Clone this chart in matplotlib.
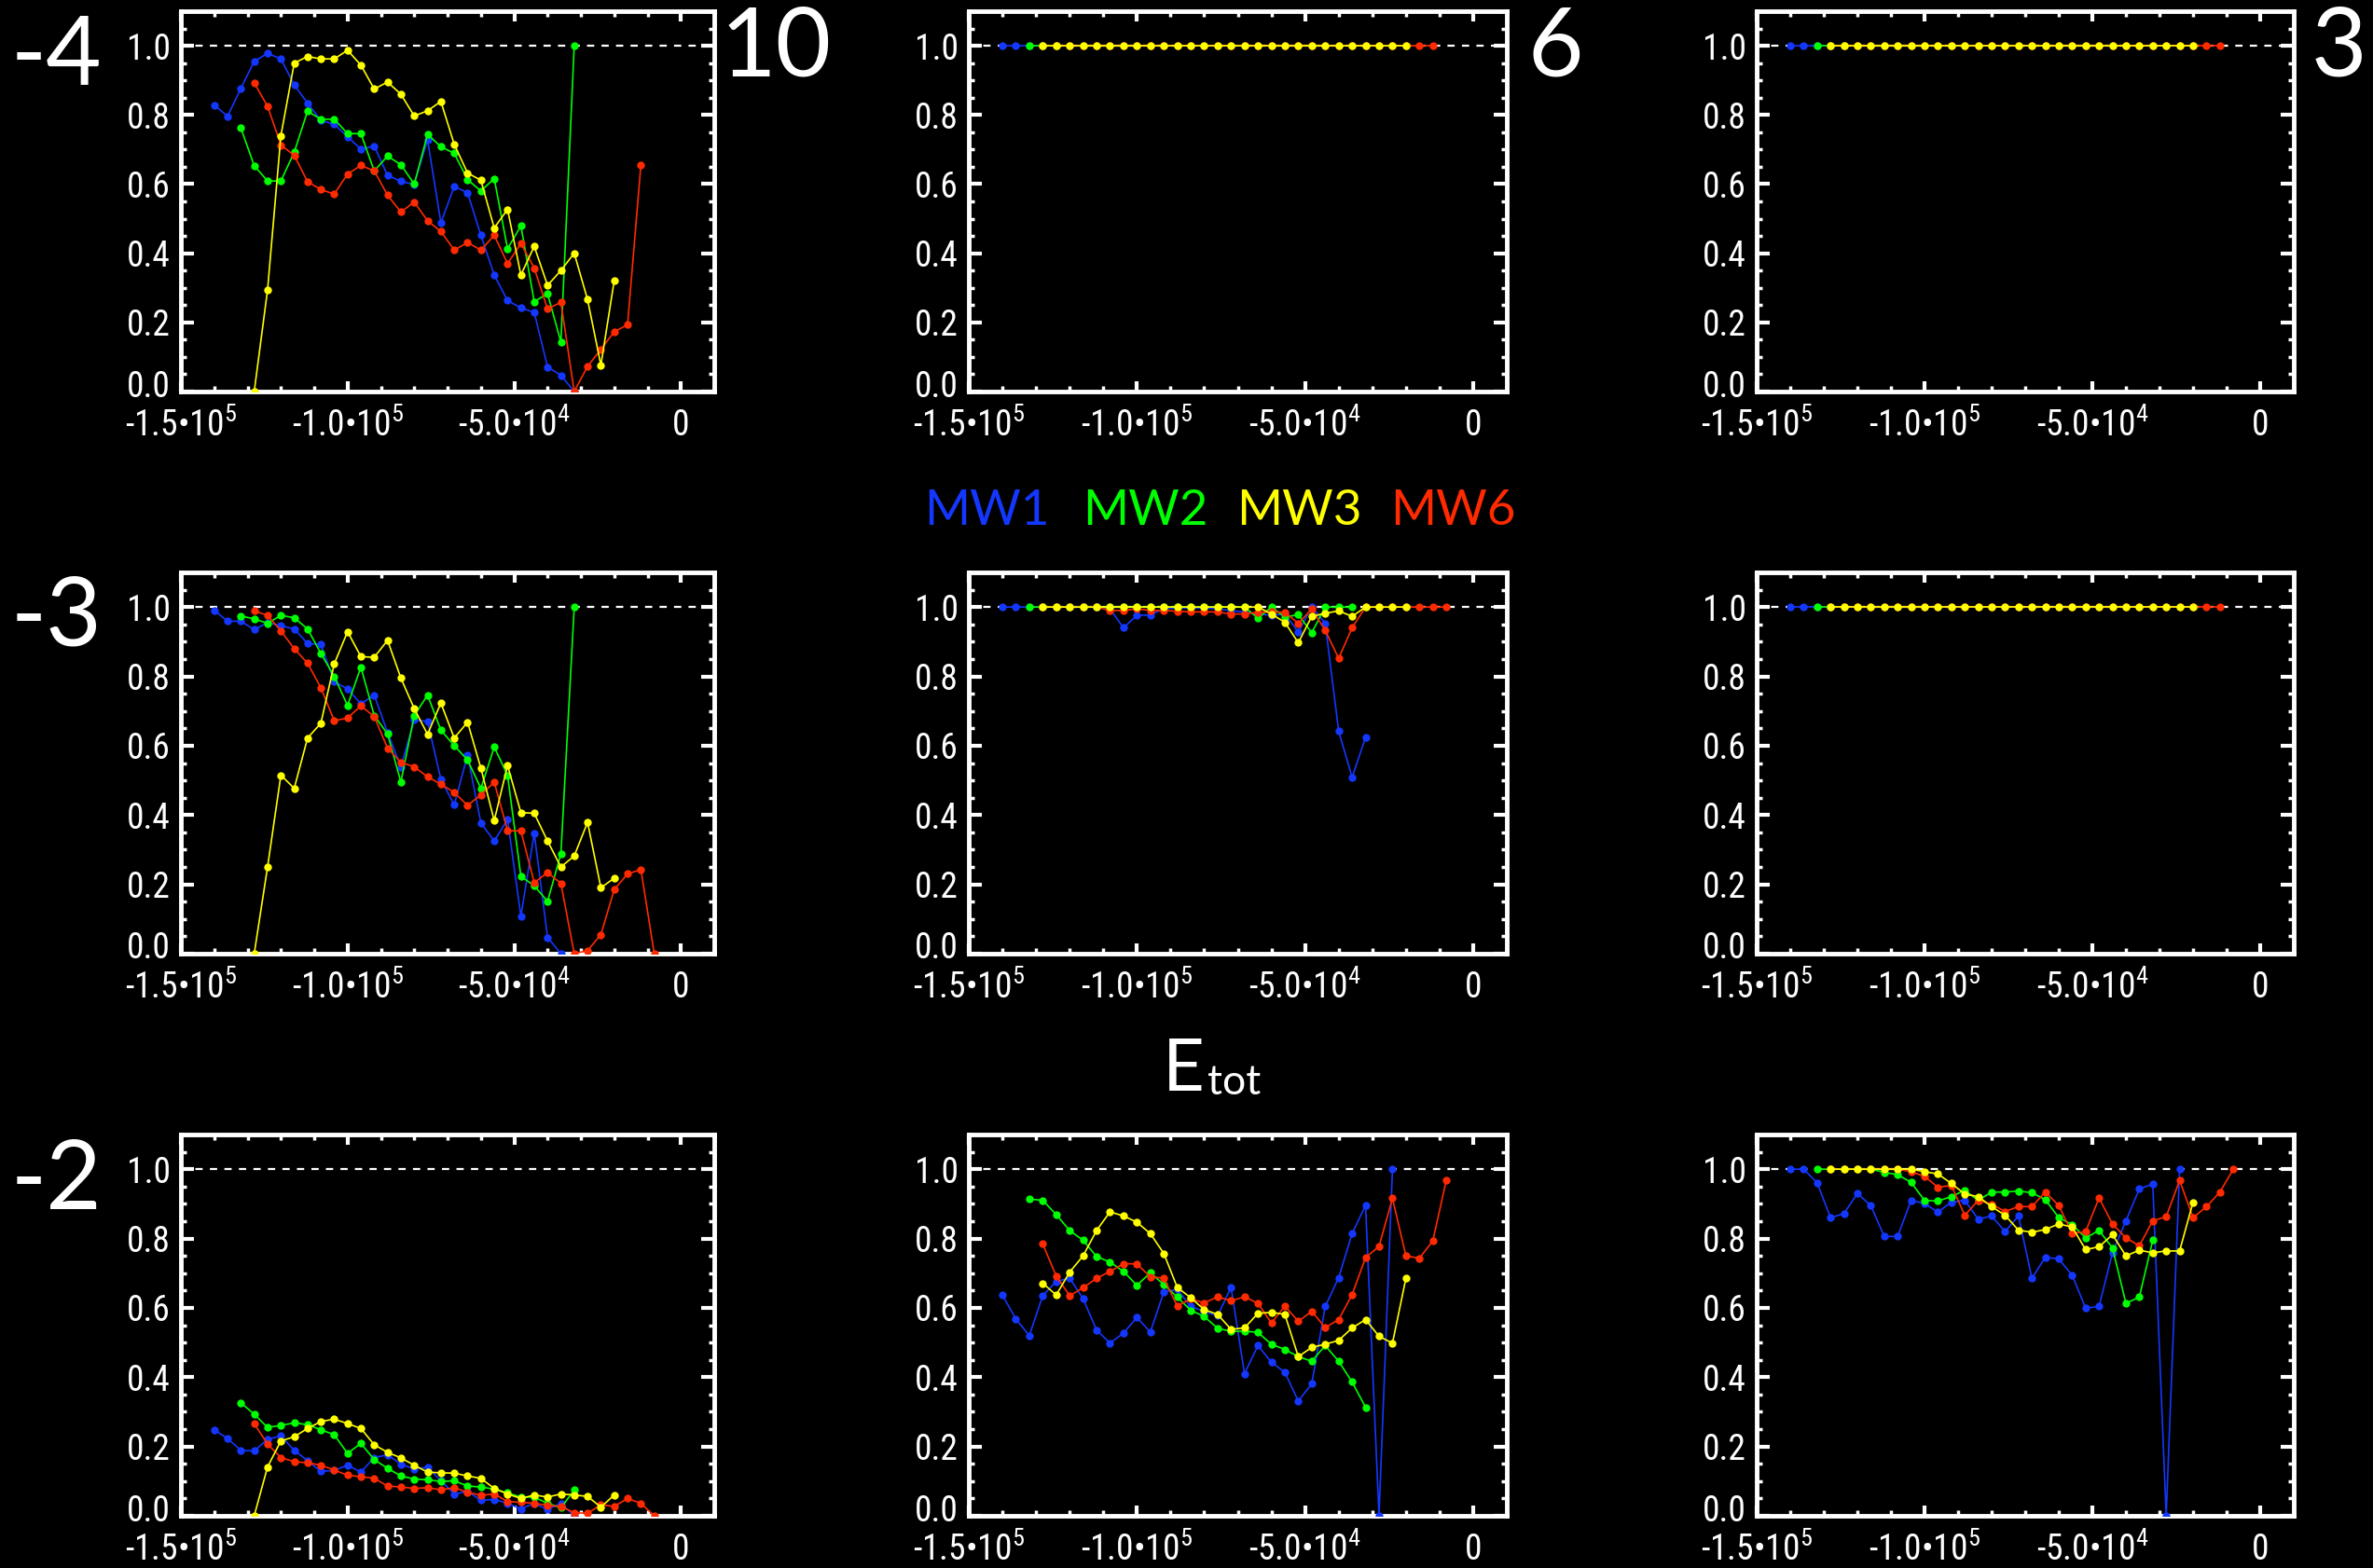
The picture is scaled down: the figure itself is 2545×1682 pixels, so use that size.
import matplotlib
matplotlib.use('Agg')
import matplotlib.pyplot as plt
from matplotlib import font_manager
from matplotlib.transforms import ScaledTranslation
from matplotlib.ticker import FixedLocator, MultipleLocator, FixedFormatter

# ---------------- data ----------------
E_BINS = [-140000, -136000, -132000, -128000, -124000, -120000, -116000, -112000,
          -108000, -104000, -100000, -96000, -92000, -88000, -84000, -80000,
          -76000, -72000, -68000, -64000, -60000, -56000, -52000, -48000,
          -44000, -40000, -36000, -32000, -28000, -24000, -20000, -16000,
          -12000, -8000]

SERIES = ['MW1', 'MW2', 'MW3', 'MW6']
SERIES_START = {'MW1': 0, 'MW2': 2, 'MW3': 3, 'MW6': 3}
COLORS = {'MW1': '#1437ff', 'MW2': '#00ff00', 'MW3': '#ffff00', 'MW6': '#ff2a00'}
DRAW_ORDER = ['MW1', 'MW2', 'MW6', 'MW3']

ROW_LABELS = ['-4', '-3', '-2']
COL_LABELS = ['10', '6', '3']

X_TICKS = [-150000, -100000, -50000, 0]
X_TICK_LABELS = ['-1.5•10$^{5}$', '-1.0•10$^{5}$', '-5.0•10$^{4}$', '0']
Y_TICKS = [0.0, 0.2, 0.4, 0.6, 0.8, 1.0]
Y_TICK_LABELS = ['0.0', '0.2', '0.4', '0.6', '0.8', '1.0']

# row -4, column 10
R4_C10_MW1 = [0.829, 0.796, 0.877, 0.955, 0.978, 0.962, 0.887, 0.834, 0.784, 0.773, 0.737, 0.701,
              0.710, 0.625, 0.608, 0.599, 0.728, 0.488, 0.593, 0.575, 0.452, 0.337, 0.263, 0.242,
              0.229, 0.071, 0.047, 0.0]
R4_C10_MW2 = [0.762, 0.653, 0.609, 0.609, 0.692, 0.811, 0.787, 0.788, 0.746, 0.746, 0.638, 0.681,
              0.656, 0.600, 0.744, 0.708, 0.689, 0.613, 0.580, 0.616, 0.413, 0.479, 0.260, 0.283,
              0.143, 1.0]
R4_C10_MW3 = [0.0, 0.294, 0.740, 0.950, 0.969, 0.962, 0.962, 0.987, 0.944, 0.875, 0.895, 0.860,
              0.797, 0.812, 0.839, 0.715, 0.632, 0.611, 0.473, 0.527, 0.337, 0.420, 0.307, 0.350,
              0.400, 0.266, 0.076, 0.321]
R4_C10_MW6 = [0.893, 0.825, 0.713, 0.683, 0.607, 0.584, 0.571, 0.629, 0.654, 0.638, 0.568, 0.519,
              0.548, 0.494, 0.463, 0.409, 0.431, 0.409, 0.452, 0.370, 0.428, 0.357, 0.239, 0.258,
              0.0, 0.073, 0.122, 0.173, 0.193, 0.656]

# row -3, column 10
R3_C10_MW1 = [0.991, 0.959, 0.959, 0.935, 0.955, 0.946, 0.937, 0.895, 0.892, 0.784, 0.764, 0.721,
              0.746, 0.638, 0.539, 0.674, 0.670, 0.503, 0.429, 0.573, 0.377, 0.325, 0.387, 0.108,
              0.347, 0.047, 0.0]
R3_C10_MW2 = [0.974, 0.966, 0.953, 0.976, 0.969, 0.937, 0.866, 0.800, 0.716, 0.827, 0.687, 0.634,
              0.495, 0.687, 0.746, 0.645, 0.600, 0.559, 0.477, 0.596, 0.515, 0.223, 0.196, 0.151,
              0.288, 1.0]
R3_C10_MW3 = [0.0, 0.250, 0.515, 0.477, 0.622, 0.665, 0.836, 0.929, 0.857, 0.855, 0.904, 0.795,
              0.707, 0.633, 0.723, 0.622, 0.668, 0.535, 0.384, 0.543, 0.407, 0.405, 0.325, 0.250,
              0.282, 0.379, 0.190, 0.218]
R3_C10_MW6 = [0.989, 0.976, 0.931, 0.880, 0.838, 0.767, 0.672, 0.680, 0.715, 0.684, 0.593, 0.552,
              0.539, 0.510, 0.489, 0.465, 0.428, 0.458, 0.495, 0.355, 0.354, 0.205, 0.234, 0.203,
              0.0, 0.009, 0.055, 0.185, 0.230, 0.243, 0.0]

# row -2, column 10
R2_C10_MW1 = [0.248, 0.223, 0.189, 0.187, 0.221, 0.230, 0.189, 0.159, 0.128, 0.131, 0.146, 0.126,
              0.168, 0.176, 0.149, 0.135, 0.140, 0.101, 0.063, 0.070, 0.045, 0.047, 0.036, 0.020,
              0.036, 0.018, 0.036, 0.0]
R2_C10_MW2 = [0.326, 0.293, 0.255, 0.261, 0.268, 0.263, 0.248, 0.234, 0.180, 0.209, 0.162, 0.137,
              0.115, 0.106, 0.104, 0.099, 0.101, 0.086, 0.083, 0.077, 0.066, 0.054, 0.054, 0.036,
              0.023, 0.074]
R2_C10_MW3 = [0.0, 0.141, 0.216, 0.228, 0.252, 0.272, 0.279, 0.266, 0.252, 0.205, 0.183, 0.167,
              0.146, 0.126, 0.124, 0.123, 0.115, 0.108, 0.079, 0.063, 0.050, 0.060, 0.054, 0.063,
              0.060, 0.056, 0.025, 0.060]
R2_C10_MW6 = [0.266, 0.207, 0.168, 0.156, 0.153, 0.146, 0.132, 0.117, 0.113, 0.108, 0.086, 0.083,
              0.079, 0.081, 0.075, 0.081, 0.068, 0.059, 0.063, 0.041, 0.039, 0.036, 0.030, 0.027,
              0.009, 0.007, 0.032, 0.027, 0.050, 0.036, 0.0]

# flat panels (row -4 col 6, row -4 col 3, row -3 col 3)
FLAT_MW1 = [1.0, 1.0, 1.0, 1.0]
FLAT_MW2 = [1.0, 1.0, 1.0]
FLAT_MW3 = [1.0, 1.0, 1.0, 1.0, 1.0, 1.0, 1.0, 1.0, 1.0, 1.0, 1.0, 1.0, 1.0, 1.0,
            1.0, 1.0, 1.0, 1.0, 1.0, 1.0, 1.0, 1.0, 1.0, 1.0, 1.0, 1.0, 1.0, 1.0]
FLAT_MW6 = [1.0, 1.0, 1.0, 1.0, 1.0, 1.0, 1.0, 1.0, 1.0, 1.0, 1.0, 1.0, 1.0, 1.0, 1.0,
            1.0, 1.0, 1.0, 1.0, 1.0, 1.0, 1.0, 1.0, 1.0, 1.0, 1.0, 1.0, 1.0, 1.0, 1.0]

# row -3, column 6
R3_C6_MW1 = [1.0, 1.0, 1.0, 1.0, 1.0, 1.0, 1.0, 1.0, 0.995, 0.940, 0.976, 0.977, 0.995, 0.997,
             0.997, 0.997, 0.995, 0.990, 0.985, 0.980, 0.976, 0.980, 0.928, 1.0, 0.953, 0.642,
             0.509, 0.624]
R3_C6_MW2 = [1.0, 1.0, 1.0, 1.0, 1.0, 1.0, 1.0, 1.0, 1.0, 1.0, 1.0, 1.0, 1.0, 1.0, 1.0, 1.0,
             1.0, 0.968, 1.0, 0.971, 0.978, 0.926, 1.0, 1.0, 1.0]
R3_C6_MW3 = [1.0, 1.0, 1.0, 1.0, 1.0, 1.0, 1.0, 1.0, 1.0, 1.0, 1.0, 1.0, 1.0, 1.0, 1.0, 1.0,
             1.0, 0.980, 0.956, 0.897, 0.973, 0.982, 0.989, 0.973, 1.0, 1.0, 1.0, 1.0]
R3_C6_MW6 = [1.0, 1.0, 1.0, 1.0, 1.0, 0.990, 0.990, 0.995, 0.990, 0.990, 0.988, 0.986, 0.986,
             0.986, 0.980, 0.980, 0.985, 0.986, 0.985, 0.953, 0.994, 0.933, 0.852, 0.940, 1.0,
             1.0, 1.0, 1.0, 1.0, 1.0, 1.0]

# row -2, column 6
R2_C6_MW1 = [0.637, 0.568, 0.520, 0.635, 0.676, 0.686, 0.626, 0.536, 0.498, 0.527, 0.572, 0.530,
             0.646, 0.653, 0.604, 0.590, 0.577, 0.659, 0.410, 0.491, 0.443, 0.414, 0.331, 0.381,
             0.604, 0.687, 0.814, 0.896, 0.0, 1.0]
R2_C6_MW2 = [0.914, 0.910, 0.869, 0.823, 0.795, 0.748, 0.732, 0.705, 0.665, 0.701, 0.667, 0.631,
             0.593, 0.575, 0.541, 0.532, 0.533, 0.529, 0.495, 0.480, 0.459, 0.446, 0.491, 0.446,
             0.386, 0.313]
R2_C6_MW3 = [0.671, 0.637, 0.703, 0.750, 0.823, 0.877, 0.865, 0.847, 0.814, 0.757, 0.659, 0.629,
             0.595, 0.581, 0.538, 0.542, 0.584, 0.587, 0.581, 0.459, 0.486, 0.495, 0.506, 0.542,
             0.566, 0.518, 0.498, 0.685]
R2_C6_MW6 = [0.784, 0.692, 0.635, 0.658, 0.685, 0.705, 0.727, 0.727, 0.689, 0.686, 0.605, 0.626,
             0.614, 0.632, 0.620, 0.632, 0.613, 0.556, 0.605, 0.561, 0.590, 0.543, 0.566, 0.638,
             0.745, 0.777, 0.916, 0.750, 0.743, 0.793, 0.968]

# row -2, column 3
R2_C3_MW1 = [1.0, 1.0, 0.961, 0.860, 0.872, 0.930, 0.895, 0.806, 0.806, 0.910, 0.901, 0.876,
             0.905, 0.910, 0.856, 0.865, 0.820, 0.865, 0.685, 0.746, 0.741, 0.694, 0.599, 0.604,
             0.759, 0.851, 0.943, 0.957, 0.0, 1.0]
R2_C3_MW2 = [1.0, 1.0, 1.0, 1.0, 1.0, 0.991, 0.984, 0.962, 0.910, 0.908, 0.921, 0.939, 0.910,
             0.934, 0.934, 0.937, 0.932, 0.912, 0.860, 0.840, 0.802, 0.823, 0.773, 0.613, 0.631,
             0.795]
R2_C3_MW3 = [1.0, 1.0, 1.0, 1.0, 1.0, 1.0, 1.0, 0.993, 0.986, 0.959, 0.928, 0.921, 0.892, 0.867,
             0.824, 0.818, 0.826, 0.842, 0.833, 0.768, 0.776, 0.811, 0.750, 0.766, 0.759, 0.764,
             0.764, 0.905]
R2_C3_MW6 = [1.0, 1.0, 1.0, 1.0, 1.0, 1.0, 0.993, 0.979, 0.948, 0.953, 0.867, 0.910, 0.899,
             0.878, 0.892, 0.892, 0.934, 0.895, 0.815, 0.820, 0.917, 0.842, 0.802, 0.779, 0.851,
             0.863, 0.968, 0.860, 0.892, 0.934, 1.0]

PANELS = [
    [dict(MW1=R4_C10_MW1, MW2=R4_C10_MW2, MW3=R4_C10_MW3, MW6=R4_C10_MW6),
     dict(MW1=FLAT_MW1, MW2=FLAT_MW2, MW3=FLAT_MW3, MW6=FLAT_MW6),
     dict(MW1=FLAT_MW1, MW2=FLAT_MW2, MW3=FLAT_MW3, MW6=FLAT_MW6)],
    [dict(MW1=R3_C10_MW1, MW2=R3_C10_MW2, MW3=R3_C10_MW3, MW6=R3_C10_MW6),
     dict(MW1=R3_C6_MW1, MW2=R3_C6_MW2, MW3=R3_C6_MW3, MW6=R3_C6_MW6),
     dict(MW1=FLAT_MW1, MW2=FLAT_MW2, MW3=FLAT_MW3, MW6=FLAT_MW6)],
    [dict(MW1=R2_C10_MW1, MW2=R2_C10_MW2, MW3=R2_C10_MW3, MW6=R2_C10_MW6),
     dict(MW1=R2_C6_MW1, MW2=R2_C6_MW2, MW3=R2_C6_MW3, MW6=R2_C6_MW6),
     dict(MW1=R2_C3_MW1, MW2=R2_C3_MW2, MW3=R2_C3_MW3, MW6=R2_C3_MW6)],
]

# ---------------- fonts ----------------
avail = {f.name for f in font_manager.fontManager.ttflist}
if 'Liberation Sans Narrow' in avail:
    TICK_FONT, TICK_SIZE = 'Liberation Sans Narrow', 28
elif 'Roboto Condensed' in avail:
    TICK_FONT, TICK_SIZE = 'Roboto Condensed', 27
else:
    TICK_FONT, TICK_SIZE = 'Liberation Sans' if 'Liberation Sans' in avail else 'DejaVu Sans', 26
BIG_FONT = 'Lato' if 'Lato' in avail else 'DejaVu Sans'
plt.rcParams['font.family'] = [TICK_FONT, 'DejaVu Sans']
plt.rcParams['mathtext.fontset'] = 'custom'
plt.rcParams['mathtext.rm'] = TICK_FONT
plt.rcParams['mathtext.it'] = TICK_FONT
plt.rcParams['mathtext.bf'] = TICK_FONT
plt.rcParams['mathtext.default'] = 'rm'

# ---------------- layout ----------------
W, H = 2545, 1682
fig = plt.figure(figsize=(W / 100, H / 100), dpi=100, facecolor='black')

COL_LEFT = [194, 1039, 1884]
COL_W = [572, 577, 576]
ROW_TOP = [12, 614, 1217]
ROW_H = [408, 409, 409]


def px_rect(l, t, w, h):
    return [l / W, 1 - (t + h) / H, w / W, h / H]


for r in range(3):
    for c in range(3):
        ax = fig.add_axes(px_rect(COL_LEFT[c], ROW_TOP[r], COL_W[c], ROW_H[r]))
        ax.set_facecolor('black')
        ax.set_xlim(-150000, 10000)
        ax.set_ylim(0.0, 1.1)
        ax.axhline(1.0, color='white', lw=1.6, dashes=(3.5, 3.5), zorder=1)
        data = PANELS[r][c]
        for s in DRAW_ORDER:
            vals = data[s]
            st = SERIES_START[s]
            xs = E_BINS[st:st + len(vals)]
            ax.plot(xs, vals, '-', color=COLORS[s], lw=1.2, marker='o', ms=6,
                    mec='none', mfc=COLORS[s], zorder=3)
        for sp in ax.spines.values():
            sp.set_color('white')
            sp.set_linewidth(3.5)
        ax.xaxis.set_major_locator(FixedLocator(X_TICKS))
        ax.xaxis.set_major_formatter(FixedFormatter(X_TICK_LABELS))
        ax.xaxis.set_minor_locator(MultipleLocator(10000))
        ax.yaxis.set_major_locator(FixedLocator(Y_TICKS))
        ax.yaxis.set_major_formatter(FixedFormatter(Y_TICK_LABELS))
        ax.yaxis.set_minor_locator(MultipleLocator(0.05))
        ax.tick_params(which='both', direction='in', colors='white', top=True, right=True)
        ax.tick_params(axis='y', which='major', length=10, width=3, labelsize=TICK_SIZE, pad=8)
        ax.tick_params(axis='y', which='minor', length=4.5, width=2.5)
        ax.tick_params(axis='x', which='major', length=8, width=3, labelsize=TICK_SIZE, pad=13)
        ax.tick_params(axis='x', which='minor', length=4, width=2.5)
        for lab in ax.get_xticklabels() + ax.get_yticklabels():
            lab.set_color('white')
        # the 0.0 label sits a little above its tick, as in the original
        lab0 = ax.yaxis.get_major_ticks()[0].label1
        lab0.set_transform(lab0.get_transform() + ScaledTranslation(0, 9 / 100, fig.dpi_scale_trans))


def ftext(x, y, s, **kw):
    fig.text(x / W, 1 - y / H, s, **kw)


# row labels
ROW_LABEL_Y = [62, 664, 1268]
for r in range(3):
    ftext(60, ROW_LABEL_Y[r], ROW_LABELS[r], color='white', fontsize=74,
          family=BIG_FONT, ha='center', va='center')

# column labels
COL_LABEL_X = [832, 1668, 2508]
for c in range(3):
    ftext(COL_LABEL_X[c], 52, COL_LABELS[c], color='white', fontsize=74,
          family=BIG_FONT, ha='center', va='center')

# legend
LEG_X = [1058, 1228, 1393, 1558]
for s, x in zip(SERIES, LEG_X):
    ftext(x, 563, s, color=COLORS[s], fontsize=38, family=BIG_FONT,
          ha='center', va='baseline')

# E_tot label
ftext(1292, 1170, 'E', color='white', fontsize=56, family=BIG_FONT, ha='right', va='baseline')
ftext(1295, 1174, 'tot', color='white', fontsize=32, family=BIG_FONT, ha='left', va='baseline')

fig.savefig('out.png', dpi=100, facecolor='black')
